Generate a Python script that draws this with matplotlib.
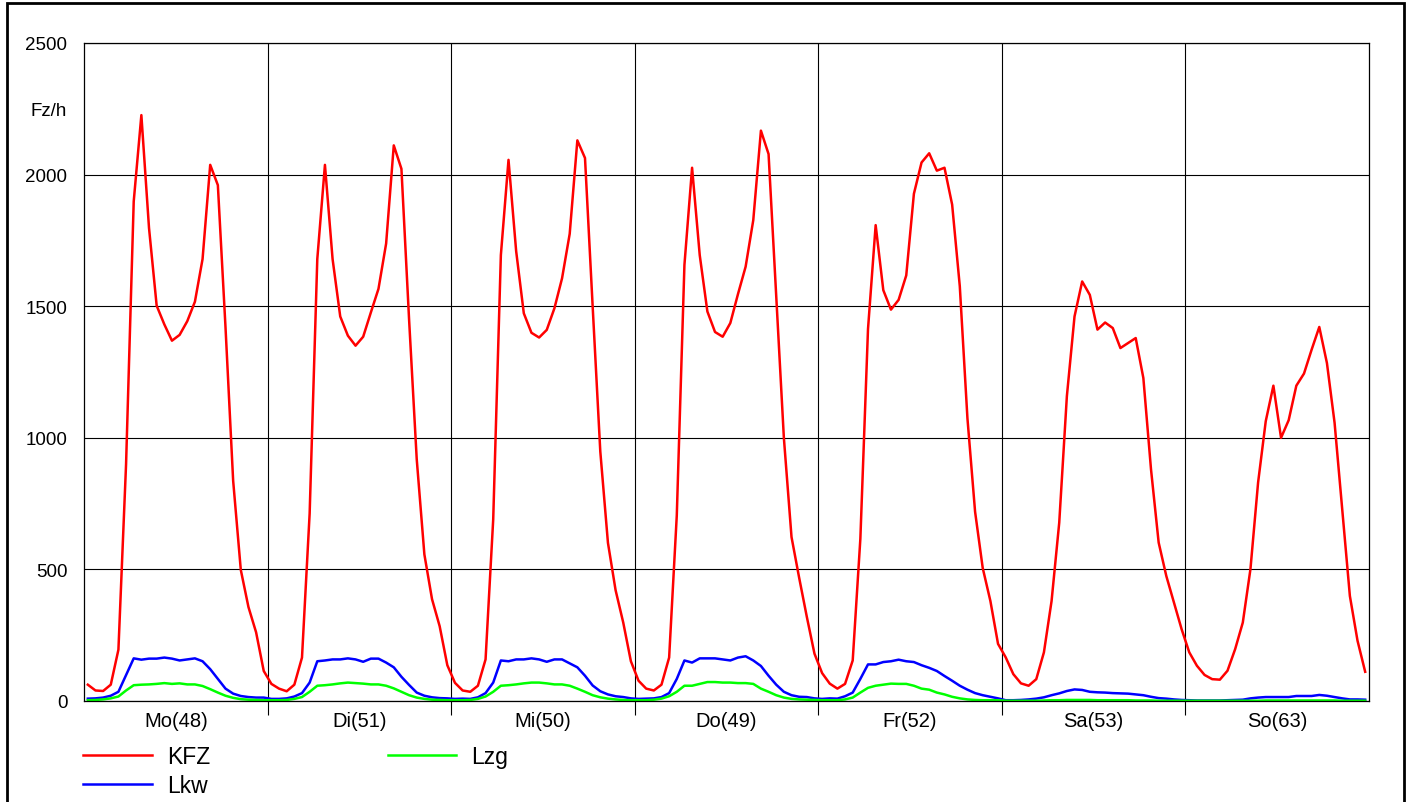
import numpy as np
import matplotlib.pyplot as plt
from matplotlib.patches import Rectangle

plt.rcParams['font.family'] = ['Liberation Sans', 'DejaVu Sans']

# Stundenwerte (Fz/h) je Wochentag, 0-23 Uhr
days = ['Mo(48)', 'Di(51)', 'Mi(50)', 'Do(49)', 'Fr(52)', 'Sa(53)', 'So(63)']

kfz_mo = [62, 40, 38, 62, 195, 900, 1898, 2226, 1797, 1502, 1431, 1369,
          1391, 1443, 1517, 1679, 2037, 1960, 1420, 837, 498, 357, 261, 114]
kfz_di = [65, 47, 37, 62, 165, 712, 1679, 2037, 1679, 1461, 1388, 1350,
          1384, 1476, 1566, 1738, 2111, 2022, 1450, 919, 557, 387, 284, 136]
kfz_mi = [69, 40, 35, 58, 158, 690, 1694, 2056, 1709, 1473, 1399, 1381,
          1410, 1492, 1606, 1775, 2130, 2063, 1500, 948, 601, 421, 298, 151]
kfz_do = [77, 47, 40, 62, 165, 705, 1657, 2026, 1694, 1480, 1402, 1384,
          1436, 1546, 1650, 1827, 2167, 2078, 1540, 1000, 623, 468, 320, 180]
kfz_fr = [106, 66, 47, 65, 154, 616, 1413, 1808, 1561, 1487, 1524, 1617,
          1927, 2046, 2081, 2015, 2026, 1886, 1576, 1074, 719, 505, 380, 217]
kfz_sa = [166, 102, 67, 58, 83, 185, 380, 677, 1158, 1461, 1594, 1543,
          1411, 1438, 1417, 1341, 1360, 1379, 1227, 880, 602, 475, 374, 273]
kfz_so = [185, 134, 99, 83, 81, 115, 197, 298, 501, 830, 1063, 1198,
          1000, 1067, 1198, 1244, 1335, 1421, 1284, 1057, 728, 399, 229, 111]

lkw_mo = [9, 10, 13, 20, 35, 99, 162, 157, 161, 161, 165, 161,
          154, 158, 162, 151, 121, 84, 47, 28, 19, 15, 13, 13]
lkw_di = [8, 8, 10, 17, 30, 70, 151, 154, 158, 158, 162, 158,
          149, 161, 161, 146, 128, 92, 61, 32, 20, 14, 11, 10]
lkw_mi = [8, 9, 8, 14, 30, 70, 154, 151, 158, 158, 162, 158,
          149, 158, 158, 143, 128, 96, 59, 37, 25, 18, 15, 10]
lkw_do = [8, 9, 10, 15, 30, 84, 154, 146, 162, 162, 162, 158,
          154, 165, 170, 154, 133, 96, 62, 35, 22, 16, 15, 10]
lkw_fr = [8, 10, 9, 18, 32, 84, 139, 139, 148, 151, 157, 151,
          148, 136, 126, 114, 95, 77, 58, 43, 30, 22, 16, 10]
lkw_sa = [3, 3, 4, 6, 9, 14, 22, 29, 38, 44, 42, 35,
          33, 32, 30, 29, 28, 25, 22, 16, 11, 9, 6, 4]
lkw_so = [3, 2, 2, 2, 2, 3, 4, 5, 10, 13, 15, 15,
          15, 15, 19, 19, 19, 23, 20, 15, 10, 6, 6, 5]

lzg_mo = [3, 4, 6, 10, 17, 40, 60, 62, 63, 65, 68, 65,
          67, 63, 63, 57, 45, 32, 20, 12, 7, 5, 4, 3]
lzg_di = [3, 3, 4, 8, 15, 35, 58, 60, 63, 67, 70, 68,
          66, 63, 63, 58, 48, 35, 22, 13, 8, 5, 4, 3]
lzg_mi = [3, 3, 4, 8, 17, 35, 58, 60, 63, 67, 70, 70,
          67, 63, 63, 58, 47, 35, 22, 14, 9, 6, 4, 3]
lzg_do = [3, 3, 5, 9, 18, 35, 58, 58, 65, 72, 72, 70,
          70, 68, 68, 65, 47, 35, 22, 13, 8, 6, 5, 4]
lzg_fr = [3, 3, 3, 6, 13, 32, 50, 58, 62, 66, 65, 65,
          58, 47, 43, 32, 25, 16, 10, 6, 4, 3, 3, 3]
lzg_sa = [1, 1, 1, 1, 1, 2, 3, 3, 4, 4, 4, 4,
          3, 3, 3, 3, 3, 2, 2, 2, 1, 1, 1, 1]
lzg_so = [1, 1, 1, 1, 1, 1, 1, 1, 1, 1, 2, 2,
          2, 2, 2, 2, 2, 2, 2, 2, 1, 1, 1, 1]

kfz = np.concatenate([kfz_mo, kfz_di, kfz_mi, kfz_do, kfz_fr, kfz_sa, kfz_so])
lkw = np.concatenate([lkw_mo, lkw_di, lkw_mi, lkw_do, lkw_fr, lkw_sa, lkw_so])
lzg = np.concatenate([lzg_mo, lzg_di, lzg_mi, lzg_do, lzg_fr, lzg_sa, lzg_so])
hours = np.arange(len(kfz))

W, H = 1407, 803
fig = plt.figure(figsize=(W / 100, H / 100), dpi=100)
ax = fig.add_axes([84 / W, (H - 702) / H, 1285 / W, 658 / H])

ax.plot(hours, kfz, color='#ff0000', lw=1.8, label='KFZ')
ax.plot(hours, lkw, color='#0000ff', lw=1.8, label='Lkw')
ax.plot(hours, lzg, color='#00ff00', lw=1.8, label='Lzg')

ax.set_xlim(-0.5, 167.5)
ax.set_ylim(0, 2500)

# Tagesgrenzen als Hauptticks, Tagesnamen als Nebenticks
bounds = np.arange(1, 7) * 24 - 0.5
ax.set_xticks(bounds)
ax.set_xticklabels([])
ax.set_xticks(np.arange(7) * 24 + 11.5, minor=True)
ax.set_xticklabels(days, minor=True)
ax.tick_params(axis='x', which='major', direction='out', length=10, width=0.8)
ax.tick_params(axis='x', which='minor', length=0, pad=7, labelsize=14.5)

ax.set_yticks(np.arange(0, 2501, 500))
ax.tick_params(axis='y', which='major', length=0, pad=12, labelsize=13.5)
ax.set_yticks([0], minor=True)
ax.tick_params(axis='y', which='minor', length=7, width=0.8)

ax.grid(True, which='major', color='black', lw=0.8)
for s in ax.spines.values():
    s.set_linewidth(0.9)

fig.text(67 / W, 1 - 111 / H, 'Fz/h', ha='right', va='center', fontsize=13.5)

fig.legend(loc='upper left', bbox_to_anchor=(83 / W, 1 - 746 / H), ncol=2,
           frameon=False, fontsize=16.5, handlelength=3.0, handletextpad=0.65,
           columnspacing=7.75, labelspacing=0.25, borderpad=0, borderaxespad=0)

fig.add_artist(Rectangle((7 / W, -0.05), 1397 / W, 1.05 - 4 / H,
                         transform=fig.transFigure, fill=False, lw=2,
                         edgecolor='black'))

fig.savefig('out.png', dpi=100)
